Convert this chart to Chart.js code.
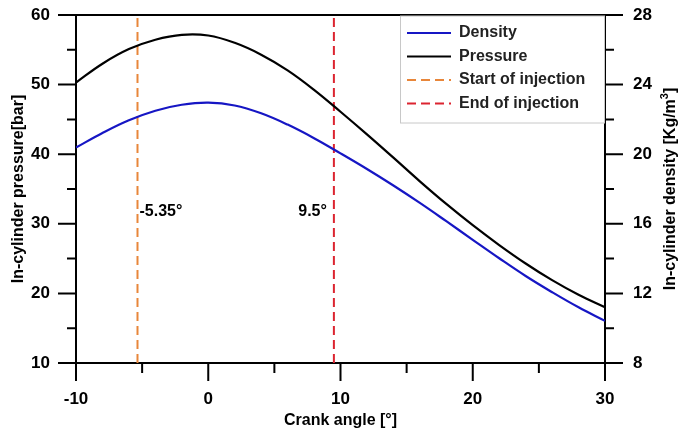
<!DOCTYPE html>
<html>
<head>
<meta charset="utf-8">
<script src="https://cdn.jsdelivr.net/npm/chart.js@4.4.1/dist/chart.umd.min.js"></script>
<style>
  html, body { margin: 0; padding: 0; background: #fff; }
  canvas { display: block; }
</style>
</head>
<body>
<canvas id="chart" width="679" height="431"></canvas>
<script>
// crank angle samples [deg]
const angles = [-10, -8, -6, -4, -2, 0, 2, 4, 6, 8, 10, 12, 14, 16, 18, 20, 22, 24, 26, 28, 30];
// in-cylinder pressure [bar] (left axis)
const pressure = [50.3, 53.0, 55.1, 56.45, 57.15, 57.05, 56.0, 54.3, 52.05, 49.25, 46.1, 42.85, 39.5, 36.1, 32.85, 29.8, 26.95, 24.3, 21.9, 19.8, 18.0];
// in-cylinder density [kg/m3] (right axis)
const density = [20.38, 21.22, 21.95, 22.5, 22.84, 22.96, 22.8, 22.35, 21.7, 20.92, 20.05, 19.15, 18.2, 17.2, 16.15, 15.08, 14.02, 13.0, 12.07, 11.2, 10.42];
// injection timing [deg]
const injectionStart = -5.35;
const injectionEnd = 9.5;
const injectionLabels = ["-5.35°", "9.5°"];

const FONT = '"Liberation Sans", Arial, sans-serif';
Chart.defaults.font.family = FONT;
Chart.defaults.font.weight = "bold";
Chart.defaults.color = "#000";

const toPoints = (xs, ys) => xs.map((x, i) => ({ x: x, y: ys[i] }));

// fixed axis box sizes, and no extra label padding pushing the plot area
const fixWidth = (w) => (scale) => {
  scale.width = w;
  scale.paddingTop = 0;
  scale.paddingBottom = 0;
};

// ticks, top frame line, legend box, annotations and right title
const framePlugin = {
  id: "frame",
  afterDraw(chart) {
    const ctx = chart.ctx;
    const { left, right, top, bottom } = chart.chartArea;
    const xs = chart.scales.x, ys = chart.scales.y, ys1 = chart.scales.y1;

    ctx.save();
    ctx.strokeStyle = "#000";
    ctx.lineWidth = 2;
    ctx.beginPath();
    ctx.moveTo(left, top);
    ctx.lineTo(right, top);
    for (let v = ys.min; v <= ys.max; v += 5) {
      const p = ys.getPixelForValue(v);
      const len = v % 10 === 0 ? 18 : 9;
      ctx.moveTo(left - len, p);
      ctx.lineTo(left, p);
    }
    for (let v = ys1.min; v <= ys1.max; v += 2) {
      const p = ys1.getPixelForValue(v);
      const len = v % 4 === 0 ? 18 : 9;
      ctx.moveTo(right, p);
      ctx.lineTo(right + len, p);
    }
    for (let v = xs.min; v <= xs.max; v += 5) {
      const p = xs.getPixelForValue(v);
      const len = v % 10 === 0 ? 18 : 10;
      ctx.moveTo(p, bottom);
      ctx.lineTo(p, bottom + len);
    }
    ctx.stroke();

    // legend
    const boxW = 205, boxH = 107;
    const lx = right - boxW;
    ctx.fillStyle = "#fff";
    ctx.fillRect(lx, top + 1, boxW - 1, boxH);
    ctx.strokeStyle = "#c8c8c8";
    ctx.lineWidth = 1;
    ctx.strokeRect(lx + 0.5, top + 1, boxW - 1, boxH);
    ctx.font = "bold 16px " + FONT;
    ctx.textBaseline = "middle";
    ctx.textAlign = "left";
    chart.data.datasets.forEach((ds, i) => {
      const ry = top + 18 + i * 23.5;
      ctx.beginPath();
      ctx.strokeStyle = ds.borderColor;
      ctx.lineWidth = 2;
      ctx.setLineDash(ds.borderDash || []);
      ctx.moveTo(lx + 7, ry);
      ctx.lineTo(lx + 51, ry);
      ctx.stroke();
      ctx.setLineDash([]);
      ctx.fillStyle = "#222";
      ctx.fillText(ds.label, lx + 59, ry);
    });

    // injection annotations
    const ay = ys.getPixelForValue(31.8);
    ctx.fillStyle = "#000";
    ctx.textAlign = "left";
    ctx.fillText(injectionLabels[0], xs.getPixelForValue(injectionStart) + 2, ay);
    ctx.textAlign = "right";
    ctx.fillText(injectionLabels[1], xs.getPixelForValue(injectionEnd) - 7, ay);

    // right axis title, reading bottom to top, with superscript 3
    const main = "In-cylinder density [Kg/m", sup = "3", tail = "]";
    ctx.font = "bold 16px " + FONT;
    const w1 = ctx.measureText(main).width;
    const w3 = ctx.measureText(tail).width;
    ctx.font = "bold 11px " + FONT;
    const w2 = ctx.measureText(sup).width;
    const total = w1 + w2 + w3;
    ctx.translate(671, (top + bottom) / 2);
    ctx.rotate(-Math.PI / 2);
    ctx.textAlign = "left";
    ctx.textBaseline = "middle";
    ctx.font = "bold 16px " + FONT;
    ctx.fillText(main, -total / 2, 0);
    ctx.font = "bold 11px " + FONT;
    ctx.fillText(sup, -total / 2 + w1, -6);
    ctx.font = "bold 16px " + FONT;
    ctx.fillText(tail, -total / 2 + w1 + w2, 0);
    ctx.restore();
  }
};

new Chart(document.getElementById("chart"), {
  type: "line",
  data: {
    datasets: [
      {
        label: "Density",
        data: toPoints(angles, density),
        yAxisID: "y1",
        borderColor: "#1616c4",
        borderWidth: 2.2,
        pointRadius: 0,
        tension: 0.4,
        order: 1
      },
      {
        label: "Pressure",
        data: toPoints(angles, pressure),
        yAxisID: "y",
        borderColor: "#000",
        borderWidth: 2.2,
        pointRadius: 0,
        tension: 0.4,
        order: 2
      },
      {
        label: "Start of injection",
        data: [{ x: injectionStart, y: 10 }, { x: injectionStart, y: 60 }],
        yAxisID: "y",
        borderColor: "#e8863a",
        borderDash: [9, 5],
        borderWidth: 2,
        pointRadius: 0,
        order: 3
      },
      {
        label: "End of injection",
        data: [{ x: injectionEnd, y: 10 }, { x: injectionEnd, y: 60 }],
        yAxisID: "y",
        borderColor: "#dc2430",
        borderDash: [9, 5],
        borderWidth: 2,
        pointRadius: 0,
        order: 4
      }
    ]
  },
  options: {
    responsive: false,
    animation: false,
    layout: { padding: { top: 15, left: 0, right: 0, bottom: 0 } },
    plugins: {
      legend: { display: false },
      tooltip: { enabled: false }
    },
    scales: {
      x: {
        type: "linear",
        min: -10,
        max: 30,
        afterFit: (scale) => { scale.height = 68; },
        grid: { display: false, drawTicks: false },
        border: { display: true, color: "#000", width: 2 },
        ticks: { stepSize: 10, padding: 26, font: { size: 17, weight: "bold" } },
        title: { display: true, text: "Crank angle [°]", font: { size: 16, weight: "bold" }, padding: { top: 0, bottom: 1 } }
      },
      y: {
        position: "left",
        min: 10,
        max: 60,
        afterFit: fixWidth(76),
        grid: { display: false, drawTicks: false },
        border: { display: true, color: "#000", width: 2 },
        ticks: { stepSize: 10, padding: 26, font: { size: 17, weight: "bold" } },
        title: { display: true, text: "In-cylinder pressure[bar]", font: { size: 16, weight: "bold" }, padding: { top: 9, bottom: 0 } }
      },
      y1: {
        position: "right",
        min: 8,
        max: 28,
        afterFit: fixWidth(74),
        grid: { display: false, drawTicks: false },
        border: { display: true, color: "#000", width: 2 },
        ticks: { stepSize: 4, padding: 28, font: { size: 17, weight: "bold" } },
        title: { display: false }
      }
    }
  },
  plugins: [framePlugin]
});
</script>
</body>
</html>
